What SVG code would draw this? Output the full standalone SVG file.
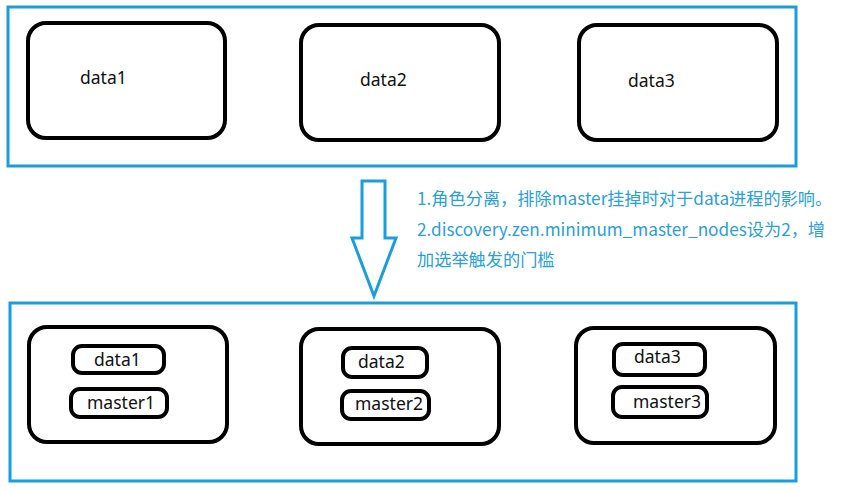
<svg xmlns="http://www.w3.org/2000/svg" width="842" height="491" viewBox="0 0 842 491">
<style>
.frame{fill:none;stroke:#1a9ddb;stroke-width:3}
.node{fill:#fff;stroke:#000;stroke-width:4}
.pill{fill:#fff;stroke:#000;stroke-width:4}
.lbl{font-family:"Noto Sans","Noto Sans CJK SC",sans-serif;font-size:17.5px;fill:#111}
.note{font-family:"Noto Sans CJK SC","Noto Sans",sans-serif;font-size:17.2px;fill:#2a9fd8}
</style>
<rect width="842" height="491" fill="#fff"/>
<g id="top-cluster">
<rect class="frame" x="8" y="7" width="788" height="159"/>
</g>
<g id="top-data1"><rect class="node" x="28" y="23" width="197" height="115" rx="18"/><text class="lbl" x="80" y="84">data1</text></g>
<g id="top-data2"><rect class="node" x="301" y="25" width="198" height="115" rx="18"/><text class="lbl" x="360" y="86">data2</text></g>
<g id="top-data3"><rect class="node" x="579" y="25" width="198" height="115" rx="18"/><text class="lbl" x="628" y="87">data3</text></g>
<g id="connectors">
<path d="M362,181 L385,181 L385,238 L396,238 L374,296 L352,238 L362,238 Z" fill="#fff" stroke="#1a9ddb" stroke-width="3" stroke-linejoin="miter"/>
</g>
<g id="note">
<text class="note" x="417" y="205">1.角色分离，排除master挂掉时对于data进程的影响。</text>
<text class="note" x="417" y="236">2.discovery.zen.minimum_master_nodes设为2，增</text>
<text class="note" x="417" y="266">加选举触发的门槛</text>
</g>
<g id="bottom-cluster">
<rect class="frame" x="10" y="303" width="786" height="178"/>
</g>
<g id="bottom-node1">
<rect class="node" x="29" y="327" width="198" height="115" rx="18"/>
<g id="data1"><rect class="pill" x="73" y="346" width="91" height="27" rx="9"/><text class="lbl" x="94" y="366">data1</text></g>
<g id="master1"><rect class="pill" x="71" y="389" width="96" height="28" rx="9"/><text class="lbl" x="87" y="409">master1</text></g>
</g>
<g id="bottom-node2">
<rect class="node" x="301" y="329" width="198" height="115" rx="18"/>
<g id="data2"><rect class="pill" x="343" y="348" width="84" height="29" rx="9"/><text class="lbl" x="358" y="368">data2</text></g>
<g id="master2"><rect class="pill" x="342" y="391" width="87" height="28" rx="9"/><text class="lbl" x="355" y="410">master2</text></g>
</g>
<g id="bottom-node3">
<rect class="node" x="576" y="328" width="199" height="115" rx="18"/>
<g id="data3"><rect class="pill" x="614" y="344" width="91" height="31" rx="9"/><text class="lbl" x="634" y="363">data3</text></g>
<g id="master3"><rect class="pill" x="613" y="387" width="94" height="30" rx="9"/><text class="lbl" x="633" y="408">master3</text></g>
</g>
</svg>
